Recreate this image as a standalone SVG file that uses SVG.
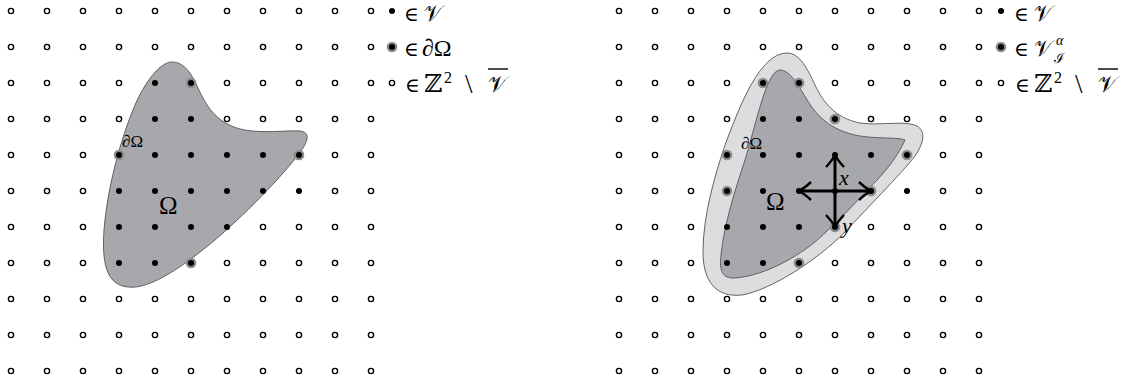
<svg xmlns="http://www.w3.org/2000/svg" xmlns:xlink="http://www.w3.org/1999/xlink" width="1123" height="385" viewBox="0 0 1123 385">
<style>
.o{fill:#fff;stroke:#000;stroke-width:1.4}
.f{fill:#000}
.h{fill:#8a8a8a}
.dom{fill:#a7a8ab;stroke:#555;stroke-width:0.9}
.band{fill:#dcdddf;stroke:#555;stroke-width:0.9}
.t{font-family:"Liberation Serif","DejaVu Serif",serif;fill:#000}
.i{font-style:italic}
.arr{stroke:#000;stroke-width:3;fill:none;marker-end:url(#head)}
.ov{stroke:#000;stroke-width:1.4}
</style>
<defs>
<circle id="o" r="2.6" class="o"/>
<circle id="f" r="3" class="f"/>
<g id="b"><circle r="5.3" class="h"/><circle r="3" class="f"/></g>
<marker id="head" viewBox="-14 -10 16 20" refX="0" refY="0" markerWidth="16" markerHeight="20" markerUnits="userSpaceOnUse" orient="auto">
<path d="M -12 -9 Q -5 -2.5 0 0 Q -5 2.5 -12 9" fill="none" stroke="#000" stroke-width="2.4"/>
</marker>
</defs>
<g id="left-panel">
<path id="left-domain" class="dom" d="M 172 62 C 185 62 192 75 198 88 C 206 105 215 122 240 129 C 260 134 290 130 300 131 C 310 132 308 140 303 148 C 290 168 250 210 215 240 C 185 265 150 290 128 287 C 105 285 102 260 104 230 C 107 190 120 140 135 105 C 145 82 160 62 172 62 Z"/>
<g id="left-grid">
<use href="#o" x="11" y="11"/><use href="#o" x="47" y="11"/><use href="#o" x="83" y="11"/><use href="#o" x="119" y="11"/><use href="#o" x="155" y="11"/><use href="#o" x="191" y="11"/><use href="#o" x="227" y="11"/><use href="#o" x="263" y="11"/><use href="#o" x="299" y="11"/><use href="#o" x="335" y="11"/><use href="#o" x="371" y="11"/>
<use href="#o" x="11" y="47"/><use href="#o" x="47" y="47"/><use href="#o" x="83" y="47"/><use href="#o" x="119" y="47"/><use href="#o" x="155" y="47"/><use href="#o" x="191" y="47"/><use href="#o" x="227" y="47"/><use href="#o" x="263" y="47"/><use href="#o" x="299" y="47"/><use href="#o" x="335" y="47"/><use href="#o" x="371" y="47"/>
<use href="#o" x="11" y="83"/><use href="#o" x="47" y="83"/><use href="#o" x="83" y="83"/><use href="#o" x="119" y="83"/><use href="#f" x="155" y="83"/><use href="#b" x="191" y="83"/><use href="#o" x="227" y="83"/><use href="#o" x="263" y="83"/><use href="#o" x="299" y="83"/><use href="#o" x="335" y="83"/><use href="#o" x="371" y="83"/>
<use href="#o" x="11" y="119"/><use href="#o" x="47" y="119"/><use href="#o" x="83" y="119"/><use href="#o" x="119" y="119"/><use href="#f" x="155" y="119"/><use href="#f" x="191" y="119"/><use href="#o" x="227" y="119"/><use href="#o" x="263" y="119"/><use href="#o" x="299" y="119"/><use href="#o" x="335" y="119"/><use href="#o" x="371" y="119"/>
<use href="#o" x="11" y="155"/><use href="#o" x="47" y="155"/><use href="#o" x="83" y="155"/><use href="#b" x="119" y="155"/><use href="#f" x="155" y="155"/><use href="#f" x="191" y="155"/><use href="#f" x="227" y="155"/><use href="#f" x="263" y="155"/><use href="#b" x="299" y="155"/><use href="#o" x="335" y="155"/><use href="#o" x="371" y="155"/>
<use href="#o" x="11" y="191"/><use href="#o" x="47" y="191"/><use href="#o" x="83" y="191"/><use href="#f" x="119" y="191"/><use href="#f" x="155" y="191"/><use href="#f" x="191" y="191"/><use href="#f" x="227" y="191"/><use href="#f" x="263" y="191"/><use href="#f" x="299" y="191"/><use href="#o" x="335" y="191"/><use href="#o" x="371" y="191"/>
<use href="#o" x="11" y="227"/><use href="#o" x="47" y="227"/><use href="#o" x="83" y="227"/><use href="#f" x="119" y="227"/><use href="#f" x="155" y="227"/><use href="#f" x="191" y="227"/><use href="#f" x="227" y="227"/><use href="#o" x="263" y="227"/><use href="#o" x="299" y="227"/><use href="#o" x="335" y="227"/><use href="#o" x="371" y="227"/>
<use href="#o" x="11" y="263"/><use href="#o" x="47" y="263"/><use href="#o" x="83" y="263"/><use href="#f" x="119" y="263"/><use href="#f" x="155" y="263"/><use href="#b" x="191" y="263"/><use href="#o" x="227" y="263"/><use href="#o" x="263" y="263"/><use href="#o" x="299" y="263"/><use href="#o" x="335" y="263"/><use href="#o" x="371" y="263"/>
<use href="#o" x="11" y="299"/><use href="#o" x="47" y="299"/><use href="#o" x="83" y="299"/><use href="#o" x="119" y="299"/><use href="#o" x="155" y="299"/><use href="#o" x="191" y="299"/><use href="#o" x="227" y="299"/><use href="#o" x="263" y="299"/><use href="#o" x="299" y="299"/><use href="#o" x="335" y="299"/><use href="#o" x="371" y="299"/>
<use href="#o" x="11" y="335"/><use href="#o" x="47" y="335"/><use href="#o" x="83" y="335"/><use href="#o" x="119" y="335"/><use href="#o" x="155" y="335"/><use href="#o" x="191" y="335"/><use href="#o" x="227" y="335"/><use href="#o" x="263" y="335"/><use href="#o" x="299" y="335"/><use href="#o" x="335" y="335"/><use href="#o" x="371" y="335"/>
<use href="#o" x="11" y="371"/><use href="#o" x="47" y="371"/><use href="#o" x="83" y="371"/><use href="#o" x="119" y="371"/><use href="#o" x="155" y="371"/><use href="#o" x="191" y="371"/><use href="#o" x="227" y="371"/><use href="#o" x="263" y="371"/><use href="#o" x="299" y="371"/><use href="#o" x="335" y="371"/><use href="#o" x="371" y="371"/>
</g>
<text class="t" x="122" y="147" font-size="17">∂Ω</text>
<text class="t" x="159" y="214" font-size="25">Ω</text>
<g id="left-legend">
<use href="#f" x="392" y="11"/>
<text class="t" y="21" font-size="20"><tspan x="404">∈</tspan><tspan x="424" font-size="22">𝒱</tspan></text>
<use href="#b" x="392" y="47"/>
<text class="t" y="56" font-size="20"><tspan x="404">∈</tspan><tspan x="422" font-size="24">∂Ω</tspan></text>
<use href="#o" x="392" y="83"/>
<text class="t" y="92" font-size="20"><tspan x="405">∈</tspan><tspan x="424" font-size="25">ℤ</tspan><tspan x="444" y="83" font-size="16">2</tspan><tspan x="465" y="93" font-size="27">\</tspan><tspan x="488" y="92" font-size="23">𝒱</tspan></text>
<line class="ov" x1="488" y1="69" x2="508" y2="69"/>
</g>
</g>
<g id="right-panel">
<path id="right-band" class="band" d="M 787 53 C 800 53 808 70 815 85 C 823 102 835 118 860 123 C 880 126 905 120 917 126 C 926 131 924 143 915 156 C 900 175 870 205 845 232 C 815 262 770 290 742 295 C 715 298 703 280 703 252 C 703 215 715 175 725 145 C 740 105 760 53 787 53 Z"/>
<path id="right-domain" class="dom" d="M 780 70 C 790 70 798 85 806 98 C 815 114 830 131 860 136 C 880 139 898 137 905 140 C 898 155 890 166 878 179 C 860 198 838 222 815 242 C 790 262 760 276 735 278 C 722 279 719 270 721 255 C 724 225 735 190 745 160 C 757 120 767 70 780 70 Z"/>
<g id="right-grid">
<use href="#o" x="619" y="11"/><use href="#o" x="655" y="11"/><use href="#o" x="691" y="11"/><use href="#o" x="727" y="11"/><use href="#o" x="763" y="11"/><use href="#o" x="799" y="11"/><use href="#o" x="835" y="11"/><use href="#o" x="871" y="11"/><use href="#o" x="907" y="11"/><use href="#o" x="943" y="11"/><use href="#o" x="979" y="11"/>
<use href="#o" x="619" y="47"/><use href="#o" x="655" y="47"/><use href="#o" x="691" y="47"/><use href="#o" x="727" y="47"/><use href="#o" x="763" y="47"/><use href="#o" x="799" y="47"/><use href="#o" x="835" y="47"/><use href="#o" x="871" y="47"/><use href="#o" x="907" y="47"/><use href="#o" x="943" y="47"/><use href="#o" x="979" y="47"/>
<use href="#o" x="619" y="83"/><use href="#o" x="655" y="83"/><use href="#o" x="691" y="83"/><use href="#o" x="727" y="83"/><use href="#b" x="763" y="83"/><use href="#b" x="799" y="83"/><use href="#o" x="835" y="83"/><use href="#o" x="871" y="83"/><use href="#o" x="907" y="83"/><use href="#o" x="943" y="83"/><use href="#o" x="979" y="83"/>
<use href="#o" x="619" y="119"/><use href="#o" x="655" y="119"/><use href="#o" x="691" y="119"/><use href="#o" x="727" y="119"/><use href="#f" x="763" y="119"/><use href="#f" x="799" y="119"/><use href="#b" x="835" y="119"/><use href="#o" x="871" y="119"/><use href="#o" x="907" y="119"/><use href="#o" x="943" y="119"/><use href="#o" x="979" y="119"/>
<use href="#o" x="619" y="155"/><use href="#o" x="655" y="155"/><use href="#o" x="691" y="155"/><use href="#b" x="727" y="155"/><use href="#f" x="763" y="155"/><use href="#f" x="799" y="155"/><use href="#f" x="835" y="155"/><use href="#f" x="871" y="155"/><use href="#b" x="907" y="155"/><use href="#o" x="943" y="155"/><use href="#o" x="979" y="155"/>
<use href="#o" x="619" y="191"/><use href="#o" x="655" y="191"/><use href="#o" x="691" y="191"/><use href="#b" x="727" y="191"/><use href="#f" x="763" y="191"/><use href="#f" x="799" y="191"/><use href="#f" x="835" y="191"/><use href="#b" x="871" y="191"/><use href="#f" x="907" y="191"/><use href="#o" x="943" y="191"/><use href="#o" x="979" y="191"/>
<use href="#o" x="619" y="227"/><use href="#o" x="655" y="227"/><use href="#o" x="691" y="227"/><use href="#f" x="727" y="227"/><use href="#f" x="763" y="227"/><use href="#f" x="799" y="227"/><use href="#b" x="835" y="227"/><use href="#o" x="871" y="227"/><use href="#o" x="907" y="227"/><use href="#o" x="943" y="227"/><use href="#o" x="979" y="227"/>
<use href="#o" x="619" y="263"/><use href="#o" x="655" y="263"/><use href="#o" x="691" y="263"/><use href="#f" x="727" y="263"/><use href="#f" x="763" y="263"/><use href="#b" x="799" y="263"/><use href="#o" x="835" y="263"/><use href="#o" x="871" y="263"/><use href="#o" x="907" y="263"/><use href="#o" x="943" y="263"/><use href="#o" x="979" y="263"/>
<use href="#o" x="619" y="299"/><use href="#o" x="655" y="299"/><use href="#o" x="691" y="299"/><use href="#o" x="727" y="299"/><use href="#o" x="763" y="299"/><use href="#o" x="799" y="299"/><use href="#o" x="835" y="299"/><use href="#o" x="871" y="299"/><use href="#o" x="907" y="299"/><use href="#o" x="943" y="299"/><use href="#o" x="979" y="299"/>
<use href="#o" x="619" y="335"/><use href="#o" x="655" y="335"/><use href="#o" x="691" y="335"/><use href="#o" x="727" y="335"/><use href="#o" x="763" y="335"/><use href="#o" x="799" y="335"/><use href="#o" x="835" y="335"/><use href="#o" x="871" y="335"/><use href="#o" x="907" y="335"/><use href="#o" x="943" y="335"/><use href="#o" x="979" y="335"/>
<use href="#o" x="619" y="371"/><use href="#o" x="655" y="371"/><use href="#o" x="691" y="371"/><use href="#o" x="727" y="371"/><use href="#o" x="763" y="371"/><use href="#o" x="799" y="371"/><use href="#o" x="835" y="371"/><use href="#o" x="871" y="371"/><use href="#o" x="907" y="371"/><use href="#o" x="943" y="371"/><use href="#o" x="979" y="371"/>
</g>
<text class="t" x="741" y="149" font-size="17">∂Ω</text>
<text class="t" x="766" y="210" font-size="25">Ω</text>
<g id="connectors">
<line class="arr" x1="835" y1="191" x2="835" y2="155"/>
<line class="arr" x1="835" y1="191" x2="835" y2="227"/>
<line class="arr" x1="835" y1="191" x2="799" y2="191"/>
<line class="arr" x1="835" y1="191" x2="871" y2="191"/>
</g>
<text class="t i" x="839" y="185" font-size="22">x</text>
<text class="t i" x="842" y="233" font-size="22">y</text>
<g id="right-legend">
<use href="#f" x="1001" y="11"/>
<text class="t" y="21" font-size="20"><tspan x="1014">∈</tspan><tspan x="1034" font-size="22">𝒱</tspan></text>
<use href="#b" x="1001" y="47"/>
<text class="t" y="56" font-size="20"><tspan x="1014">∈</tspan><tspan x="1034" font-size="22">𝒱</tspan><tspan x="1056" y="45" font-size="14" class="i">α</tspan><tspan x="1054" y="63" font-size="14">ℐ</tspan></text>
<use href="#o" x="1001" y="83"/>
<text class="t" y="92" font-size="20"><tspan x="1015">∈</tspan><tspan x="1034" font-size="25">ℤ</tspan><tspan x="1054" y="83" font-size="16">2</tspan><tspan x="1075" y="93" font-size="27">\</tspan><tspan x="1098" y="92" font-size="23">𝒱</tspan></text>
<line class="ov" x1="1098" y1="69" x2="1118" y2="69"/>
</g>
</g>
</svg>
